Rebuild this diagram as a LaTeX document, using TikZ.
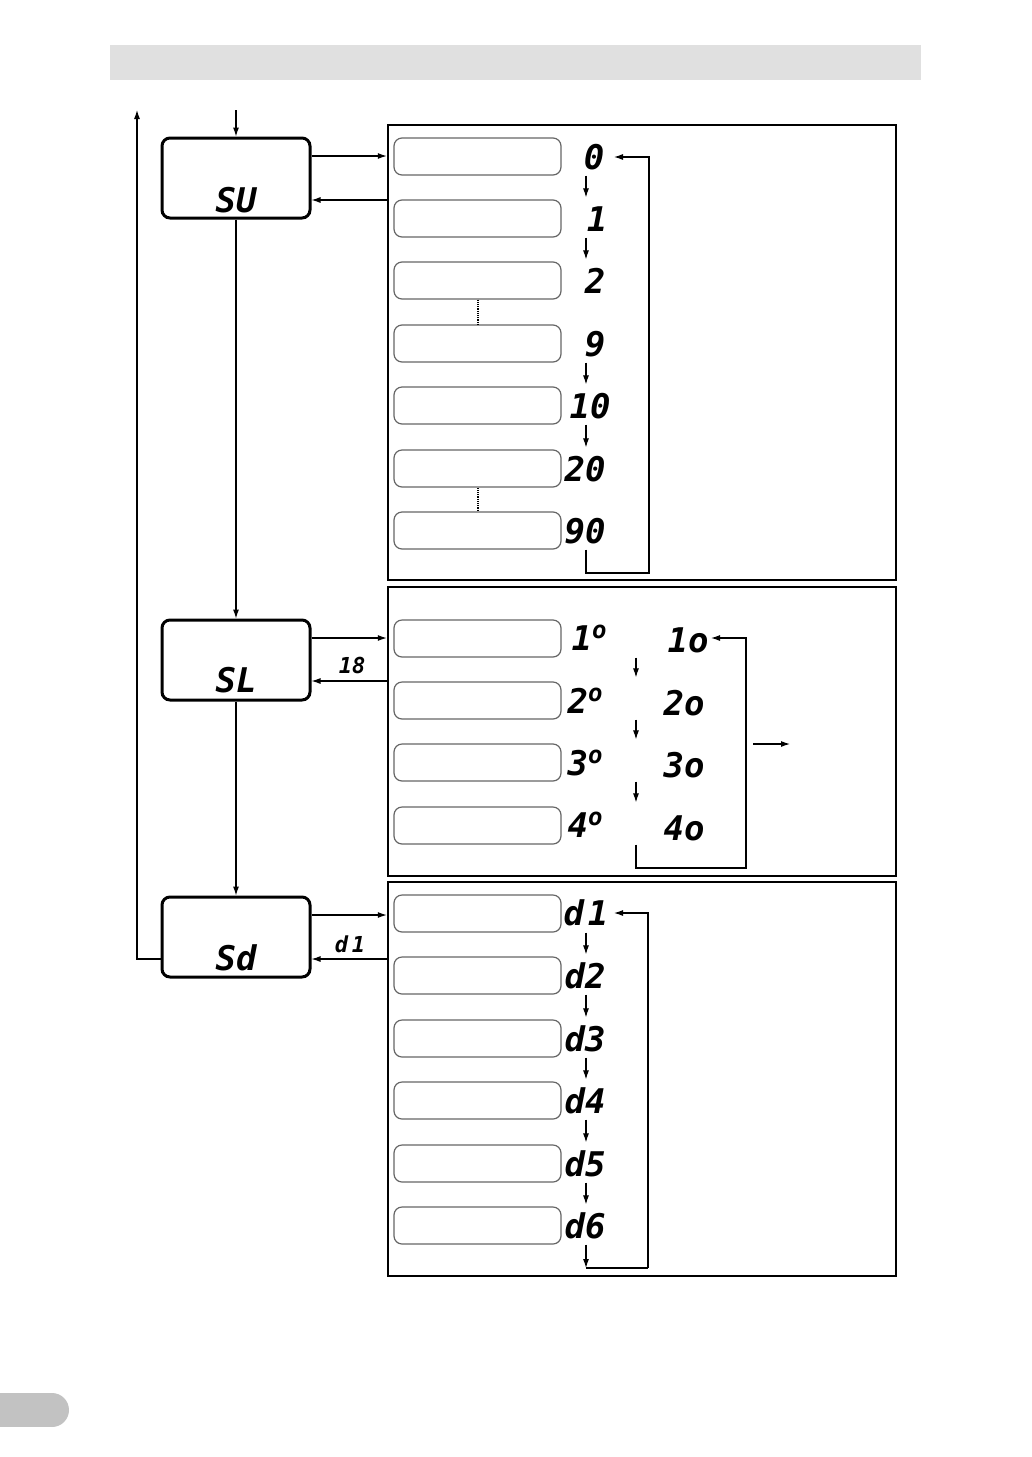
\documentclass[tikz,border=0pt]{standalone}
\usepackage{fontspec}
\setmainfont{DejaVu Sans}
\newfontfamily\seg{DejaVu Sans Mono}
\usetikzlibrary{arrows.meta}
\definecolor{hdr}{HTML}{E0E0E0}
\definecolor{tabc}{HTML}{C2C2C2}
\newcommand{\up}[1]{\raisebox{0.36em}{\fontsize{12}{12}\selectfont #1}}
\begin{document}
\begin{tikzpicture}[x=0.5pt,y=-0.5pt,
  arr/.style={-{Latex[length=4.5pt,width=3pt]}, line width=0.55pt},
  ln/.style={line width=0.55pt},
  mainbox/.style={draw, line width=1.5pt, rounded corners=4pt, minimum width=74pt, minimum height=40pt, inner sep=0pt},
  panel/.style={draw, line width=1.2pt, minimum width=254pt, inner sep=0pt},
  slot/.style={draw=black!60, line width=0.6pt, rounded corners=4pt, minimum width=83.5pt, minimum height=18.5pt, inner sep=0pt},
  val/.style={font=\seg\bfseries\itshape\fontsize{17}{17}\selectfont, inner sep=0pt},
  small/.style={font=\seg\bfseries\itshape\fontsize{11}{11}\selectfont, inner sep=0pt},
  dots/.style={line width=1pt, dash pattern=on 0.6pt off 0.5pt}]
\useasboundingbox (0,0) rectangle (1032,1457);
% header and tab
\fill[hdr] (110,45) rectangle (921,80);
\fill[tabc] (0,1393) rectangle (52,1427);
\fill[tabc] (52,1410) circle[radius=8.5pt];
% main boxes
\node[mainbox] (SU) at (236,178) {};
\node[mainbox] (SL) at (236,660) {};
\node[mainbox] (Sd) at (236,937) {};
\node[val] (SUt) at (236,200) {SU};
\node[val] (SLt) at (236,680) {SL};
\node[val] (Sdt) at (236,958) {Sd};
% panels
\node[panel, minimum height=227.5pt] (P1) at (642,352.5) {};
\node[panel, minimum height=144.5pt] (P2) at (642,731.5) {};
\node[panel, minimum height=197pt] (P3) at (642,1079) {};
% main flow
\coordinate (entry) at (236,110);
\coordinate (ret) at (137,110);
\draw[arr] (entry) -- (SU.north);
\draw[arr] (SU.south) -- (SL.north);
\draw[arr] (SL.south) -- (Sd.north);
\draw[arr] ([yshift=-11pt]Sd.west) -| (ret);
% links to panels
\draw[arr] ([yshift=11pt]SU.east) -- ([yshift=11pt]SU.east -| P1.west);
\draw[arr] ([yshift=-11pt]SU.east -| P1.west) -- ([yshift=-11pt]SU.east);
\draw[arr] ([yshift=11pt]SL.east) -- ([yshift=11pt]SL.east -| P2.west);
\draw[arr] ([yshift=-10.5pt]SL.east -| P2.west) -- ([yshift=-10.5pt]SL.east);
\draw[arr] ([yshift=11pt]Sd.east) -- ([yshift=11pt]Sd.east -| P3.west);
\draw[arr] ([yshift=-11pt]Sd.east -| P3.west) -- ([yshift=-11pt]Sd.east);
\node[small] (l18) at (352,665) {18};
\node[small] (ld1) at (350,944) {d\kern2pt 1};
% column coordinates
\coordinate (k1) at (586,0);
\coordinate (k2) at (636,0);
% panel 1
\foreach \i/\y in {1/156.5,2/218.5,3/280.5,4/343.5,5/405.5,6/468.5,7/530.5}
  \node[slot] (a\i) at (477.5,\y) {};
\node[val] (v1) at (594,157) {0};
\node[val] (v2) at (597,219) {1};
\node[val] (v3) at (595,281) {2};
\node[val] (v4) at (595,344) {9};
\node[val] (v5) at (590,406) {10};
\node[val] (v6) at (585,469) {20};
\node[val] (v7) at (585,531) {90};
\draw[dots] (a3.south) -- (a4.north);
\draw[dots] (a6.south) -- (a7.north);
\foreach \a/\b in {a1/a2,a2/a3,a4/a5,a5/a6}
  \draw[arr, shorten >=1pt] (\a.south -| k1) -- (\b.north -| k1);
\coordinate (r1) at (649,573);
\coordinate (t1) at (614,157);
\draw[arr] (a7.south -| k1) |- (r1) |- (t1);
% panel 2
\foreach \i/\y in {1/638.5,2/700.5,3/762.5,4/825.5}
  \node[slot] (b\i) at (477.5,\y) {};
\node[val] (u1) at (589,638) {1\up{o}};
\node[val] (u2) at (585,701) {2\up{o}};
\node[val] (u3) at (585,763) {3\up{o}};
\node[val] (u4) at (585,825) {4\up{o}};
\node[val] (w1) at (688,640) {1o};
\node[val] (w2) at (684,703) {2o};
\node[val] (w3) at (684,765) {3o};
\node[val] (w4) at (684,828) {4o};
\foreach \a/\b in {b1/b2,b2/b3,b3/b4}
  \draw[arr, shorten >=2pt] (\a.south -| k2) -- (\b.north -| k2);
\coordinate (r2) at (746,868);
\coordinate (t2) at (711,638);
\draw[arr] (b4.south -| k2) |- (r2) |- (t2);
\coordinate (o1) at (753,744);
\coordinate (o2) at (790,744);
\draw[arr] (o1) -- (o2);
% panel 3
\foreach \i/\y in {1/913.5,2/975.5,3/1038.5,4/1100.5,5/1163.5,6/1225.5}
  \node[slot] (c\i) at (477.5,\y) {};
\node[val] (d1) at (586,913) {d\kern2pt 1};
\node[val] (d2) at (585,976) {d2};
\node[val] (d3) at (585,1039) {d3};
\node[val] (d4) at (585,1101) {d4};
\node[val] (d5) at (585,1164) {d5};
\node[val] (d6) at (585,1226) {d6};
\foreach \a/\b in {c1/c2,c2/c3,c3/c4,c4/c5,c5/c6}
  \draw[arr, shorten >=1pt] (\a.south -| k1) -- (\b.north -| k1);
\coordinate (e3) at (586,1268);
\coordinate (r3) at (648,1268);
\coordinate (t3) at (614,913);
\draw[arr] (c6.south -| k1) -- (e3);
\draw[ln] (e3) -- (r3);
\draw[arr] (r3) |- (t3);
\end{tikzpicture}
\end{document}
